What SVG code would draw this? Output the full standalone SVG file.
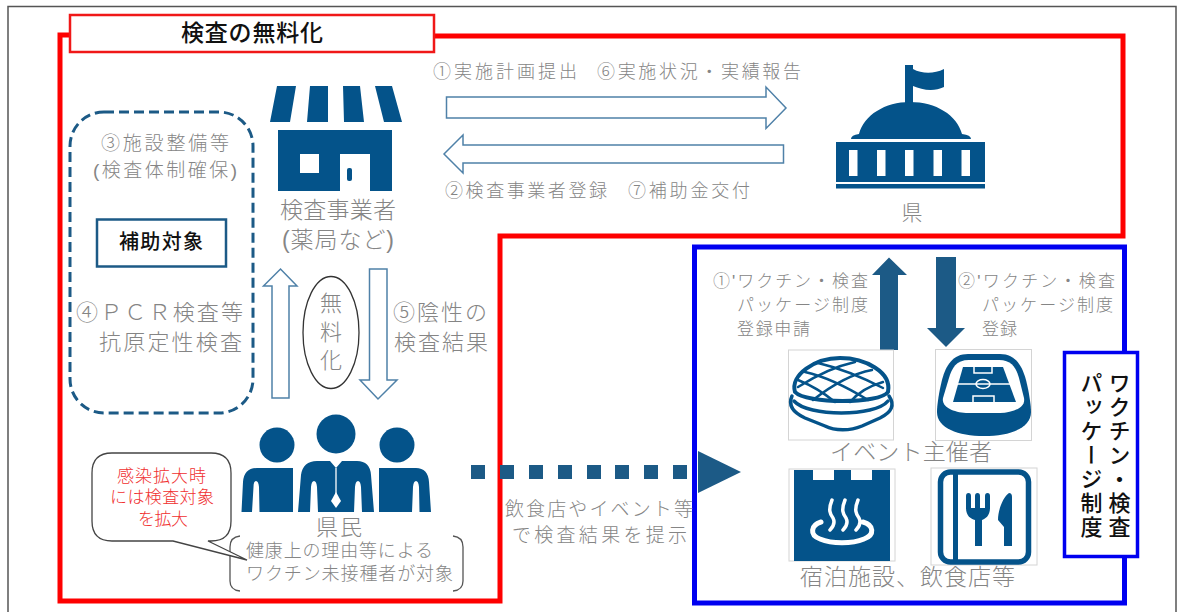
<svg xmlns="http://www.w3.org/2000/svg" width="1178" height="612" viewBox="0 0 1178 612">
<style>
text{font-family:"Liberation Sans","Noto Sans CJK JP",sans-serif;dominant-baseline:central}
.g{fill:#858585;font-weight:300}
.k{fill:#111;font-weight:500}
.r{fill:#f03030;font-size:17px;font-weight:300}
.ic{fill:#04538a}
.ln{fill:none;stroke:#04538a;stroke-linecap:round;stroke-linejoin:round}
.wl{fill:none;stroke:#fff;stroke-linecap:round;stroke-linejoin:round}
.ar{fill:#fff;stroke:#4f81a8;stroke-width:1.5}
.sq{fill:#1c5a86}
.box{fill:#fff;stroke:#d4d4d4;stroke-width:1}
.v{writing-mode:vertical-rl;dominant-baseline:auto;font-size:22px;fill:#111;font-weight:500}
</style>
<rect width="1178" height="612" fill="#fff"/>
<rect x="8" y="6.5" width="1168" height="620" fill="none" stroke="#555" stroke-width="1.5"/>

<g id="frame-free">
<path d="M70,35 H60 V601 H500 V236 H1123 V36 H434" fill="none" stroke="#fe0000" stroke-width="5"/>
<rect x="70" y="15" width="364" height="37" fill="#fff" stroke="#f01818" stroke-width="2.5"/>
<text class="k" x="252" y="33" font-size="23" text-anchor="middle" textLength="142">検査の無料化</text>
</g>

<g id="frame-package">
<rect x="694.5" y="247" width="430" height="356" fill="none" stroke="#0000f0" stroke-width="5"/>
</g>

<g id="subsidy">
<rect x="70" y="112" width="183" height="301" rx="34" fill="none" stroke="#1c5a86" stroke-width="3" stroke-dasharray="10 5"/>
<text class="g" x="101" y="143" font-size="19" textLength="128">③施設整備等</text>
<text class="g" x="93" y="170" font-size="19" textLength="144">(検査体制確保)</text>
<rect x="97" y="219.500" width="129" height="47" fill="#fff" stroke="#1c5a86" stroke-width="2.500"/>
<text class="k" x="161" y="242" font-size="20" text-anchor="middle" textLength="84">補助対象</text>
<text class="g" x="76" y="312" font-size="22" textLength="167">④ＰＣＲ検査等</text>
<text class="g" x="99" y="342" font-size="22" textLength="143">抗原定性検査</text>
</g>

<g id="store">
<path class="ic" d="M277,86 H296 L290,122 H270 Z M310,86 H328 V122 H307 Z M343,86 H360 L364,122 H344 Z M375,86 H392 L402,122 H384 Z"/>
<path class="ic" fill-rule="evenodd" d="M278,130 H392 V191 H370 V154 H340 V191 H278 Z M300,154 V173 H319 V154 Z"/>
<rect class="ic" x="347" y="168" width="5" height="13" rx="2"/>
<text class="g" x="280" y="210" font-size="23" textLength="116">検査事業者</text>
<text class="g" x="282" y="240" font-size="23" textLength="112">(薬局など)</text>
</g>

<g id="prefecture">
<rect class="ic" x="905" y="65" width="8" height="38"/>
<path class="ic" d="M913,69 C922,74 934,74 944,69 V87 C934,92 922,90 913,86 Z"/>
<path class="ic" d="M851,139 Q851,135 859,134 C864,115 885,102 910,102 C936,102 957,115 962,134 Q971,135 971,139 Z"/>
<path class="ic" fill-rule="evenodd" d="M836,142 H985 V182 H836 Z M849,150 V176 H857.500 V150 Z M877,150 V176 H885.500 V150 Z M905,150 V176 H913.500 V150 Z M933.500,150 V176 H942 V150 Z M961.500,150 V176 H970 V150 Z"/>
<rect class="ic" x="836" y="184" width="149" height="4.500"/>
<text class="g" x="912" y="212" font-size="21" text-anchor="middle">県</text>
</g>

<g id="free-label">
<ellipse cx="331" cy="332.500" rx="28" ry="56" fill="#fff" stroke="#333" stroke-width="1.300"/>
<text class="g" x="331" y="303" font-size="22" text-anchor="middle">無</text>
<text class="g" x="331" y="332" font-size="22" text-anchor="middle">料</text>
<text class="g" x="331" y="360" font-size="22" text-anchor="middle">化</text>
</g>

<g id="citizens">
<circle class="ic" cx="277" cy="445" r="17.500"/>
<circle class="ic" cx="336" cy="434" r="19.500"/>
<circle class="ic" cx="397" cy="445" r="17.500"/>
<path class="ic" d="M241.500,512 L243,482 Q244,468 257,468 H293 V512 H259.500 L259,487 Q258.500,481 256,481 Q253.500,481 253.500,487 L252,512 Z"/>
<path class="ic" d="M298,512 L301,475 Q303,461 317,461 H330 L336,468 L342,461 H357 Q370,461 371,475 L374,512 H362 L361,487 Q360.500,481 358,481 Q355.500,481 355,487 L354,512 H318 L317,487 Q316.500,481 314,481 Q311.500,481 311,487 L310,512 Z"/>
<path d="M336,468 V495" stroke="#fff" stroke-width="1.300"/>
<path d="M336,492 L341,501 L336,508 L331,501 Z" fill="#fff"/>
<path class="ic" d="M379,512 V468 H416 Q428,468 429,482 L431,512 H419.500 L419,487 Q418.500,481 416,481 Q413.500,481 413,487 L412,512 Z"/>
<text class="g" x="339" y="527" font-size="22" text-anchor="middle" textLength="46">県民</text>
<path d="M240,536 Q230,537 230,547 V581 Q230,590 240,591 M453,536 Q463,537 463,547 V581 Q463,590 453,591" fill="none" stroke="#555" stroke-width="1.300"/>
<text class="g" x="246" y="551" font-size="18" textLength="187">健康上の理由等による</text>
<text class="g" x="246" y="574" font-size="18" textLength="207">ワクチン未接種者が対象</text>
</g>

<g id="callout">
<path d="M112,453 H211 Q231,453 231,473 V521 Q231,541 211,541 H208 L247,560 L173,541 H112 Q92,541 92,521 V473 Q92,453 112,453 Z" fill="#fff" stroke="#444" stroke-width="1.300"/>
<text class="r" x="161.500" y="476" text-anchor="middle" textLength="89">感染拡大時</text>
<text class="r" x="162" y="497" text-anchor="middle" textLength="104">には検査対象</text>
<text class="r" x="163" y="519" text-anchor="middle" textLength="50">を拡大</text>
</g>

<g id="connectors">
<path class="ar" d="M446.500,97 H766 V87 L786,108 L766,128.500 V118 H446.500 Z"/>
<path class="ar" d="M783.500,145 H463 V135 L444,154 L463,173 V163 H783.500 Z"/>
<path class="ar" d="M272,398 V286 H263.500 L280.500,269 L297,286 H289 V398 Z"/>
<path class="ar" d="M369.500,269 H387 V380 H397 L378,399 L360,380 H369.500 Z"/>
<path class="sq" d="M880,350 V275 H872 L889,257.500 L907,275 H898 V350 Z"/>
<path class="sq" d="M936,257 H956 V328 H965 L946,347 L927,328 H936 Z"/>
<g class="sq">
<rect x="471" y="465" width="14" height="14"/><rect x="500" y="465" width="14" height="14"/><rect x="529" y="465" width="14" height="14"/><rect x="558" y="465" width="14" height="14"/><rect x="587" y="465" width="14" height="14"/><rect x="615" y="465" width="14" height="14"/><rect x="644" y="465" width="14" height="14"/><rect x="673" y="465" width="14" height="14"/>
<path d="M698,451 L741,472 L698,493 Z"/>
</g>
<text class="g" x="433" y="72" font-size="18" textLength="144">①実施計画提出</text>
<text class="g" x="597" y="72" font-size="18" textLength="204">⑥実施状況・実績報告</text>
<text class="g" x="445" y="191" font-size="18" textLength="162">②検査事業者登録</text>
<text class="g" x="628" y="191" font-size="18" textLength="122">⑦補助金交付</text>
<text class="g" x="393" y="312" font-size="22" textLength="94">⑤陰性の</text>
<text class="g" x="394" y="342" font-size="22" textLength="94">検査結果</text>
<text class="g" x="505" y="509" font-size="19" textLength="188">飲食店やイベント等</text>
<text class="g" x="512" y="535" font-size="19" textLength="175">で検査結果を提示</text>
<text class="g" x="713" y="281" font-size="17" textLength="155">①'ワクチン・検査</text>
<text class="g" x="737" y="305" font-size="17" textLength="131">パッケージ制度</text>
<text class="g" x="737" y="329" font-size="17" textLength="73">登録申請</text>
<text class="g" x="958" y="281" font-size="17" textLength="157">②'ワクチン・検査</text>
<text class="g" x="982" y="305" font-size="17" textLength="131">パッケージ制度</text>
<text class="g" x="982" y="329" font-size="17" textLength="35">登録</text>
</g>

<g id="dome">
<rect class="box" x="788.500" y="350" width="105" height="90"/>
<path class="ln" stroke-width="3.500" d="M792,396 C788,405 792,412 805,418 L825,426 C835,431 850,431 862,426 L880,418 C892,412 895,405 889,396"/>
<path class="ln" stroke-width="3.500" d="M794,401 C808,417 875,417 888,401"/>
<path class="ln" stroke-width="4" d="M795,392 C790,375 815,358 840,358 C865,358 892,372 888,392 C880,404 806,404 795,392 Z"/>
<g class="ln" stroke-width="2.500">
<path d="M805,372 Q832,378 868,400 M818,363 Q848,370 883,388 M798,380 Q818,388 835,402 M872,370 Q845,375 813,400 M855,362 Q828,368 798,387 M883,382 Q862,388 850,402"/>
</g>
</g>

<g id="stadium">
<rect class="box" x="935.500" y="349.500" width="96" height="91"/>
<path class="ic" d="M968,354 H1000 C1015,354 1022,365 1026,380 C1029,392 1031,405 1031,412 C1031,428 1010,436 984,436 C958,436 937,428 937,412 C937,405 939,392 942,380 C946,365 953,354 968,354 Z"/>
<path d="M969,360 H999 C1012,360 1016,368 1019,378 L1024,398 C1026,408 1012,413 1000,413 H968 C956,413 941,408 943,398 L949,378 C952,368 956,360 969,360 Z" fill="#fff"/>
<path class="ic" d="M963,367 H1003 L1016,402 H953 Z"/>
<g fill="none" stroke="#fff" stroke-width="1.500">
<path d="M955,384 H1012"/><ellipse cx="983" cy="384" rx="7" ry="4.500"/>
<rect x="974" y="366" width="18" height="7"/><rect x="973" y="396" width="21" height="7"/>
</g>
</g>

<g id="onsen">
<rect class="box" x="789" y="469" width="106" height="92"/>
<path class="ic" d="M794,470 H813 V480 H834 V470 H851 V480 H872 V470 H890 V561 H794 Z"/>
<g class="wl" stroke-width="3.500">
<path d="M832,500 C828,510 830,514 833,518 C835,522 834,526 830,530 M845,500 C841,510 843,514 846,518 C848,522 847,526 843,530 M858,500 C854,510 856,514 859,518 C861,522 860,526 856,530"/>
<path d="M821,522 C811,525 809,535 820,539 C832,544 852,544 864,539 C875,535 874,525 863,522" stroke-width="5"/>
</g>
</g>

<g id="restaurant">
<rect class="box" x="931" y="468" width="106" height="97"/>
<rect x="940.500" y="472" width="88" height="90" rx="10" fill="none" stroke="#04538a" stroke-width="5.500"/>
<rect class="ic" x="953" y="471" width="5" height="91"/>
<path class="ic" d="M966,496 Q966,493 968.500,493 Q971,493 971,496 V508 H975 V496 Q975,493 977.500,493 Q980,493 980,496 V508 H985 V496 Q985,493 987.500,493 Q990,493 990,496 V508 C990,516 985,519 982,520 V546 H975 V520 C971,519 966,516 966,508 Z"/>
<path class="ic" d="M1012,497 Q1012,493 1009,493 C1003,497 998,510 998,520 L1004,527 V546 H1012 Z"/>
</g>

<text class="g" x="830" y="452" font-size="23" textLength="162">イベント主催者</text>
<text class="g" x="800" y="577" font-size="23" textLength="215">宿泊施設、飲食店等</text>

<g id="package-label">
<rect x="1064.500" y="352.500" width="73" height="204" fill="#fff" stroke="#0000f0" stroke-width="3.500"/>
<text class="v" x="1117" y="372" textLength="166">ワクチン・検査</text>
<text class="v" x="1089" y="372" textLength="166">パッケージ制度</text>
</g>
</svg>
